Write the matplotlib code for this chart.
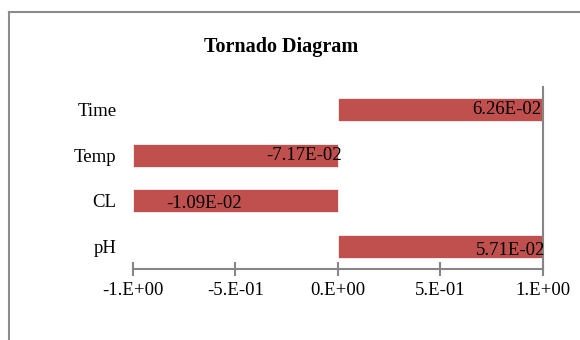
import matplotlib
matplotlib.use("Agg")
import matplotlib.pyplot as plt
from matplotlib.lines import Line2D

plt.rcParams["font.family"] = ["Liberation Serif", "DejaVu Serif"]

# bottom to top
factors = ["pH", "CL", "Temp", "Time"]
bar_values = [1.0, -1.0, -1.0, 1.0]
sensitivity = [5.71e-02, -1.09e-02, -7.17e-02, 6.26e-02]
tick_values = [-1.0, -0.5, 0.0, 0.5, 1.0]
tick_labels = ["-1.E+00", "-5.E-01", "0.E+00", "5.E-01", "1.E+00"]

# where each value label sits (x in data units, alignment)
label_x = [1.01, -0.84, 0.02, 0.99]
label_ha = ["right", "left", "right", "right"]
label_dy = [-0.1, -0.06, 0.0, 0.0]

bar_color = "#C0504D"
axis_color = "#868686"

fig = plt.figure(figsize=(5.8, 3.4), dpi=100)
ax = fig.add_axes([0.2293, 0.2088, 0.7069, 0.5353])

ypos = list(range(len(factors)))
ax.barh(ypos, bar_values, height=0.5, color=bar_color, edgecolor="white", linewidth=0.5)

for i, v in enumerate(sensitivity):
    txt = "%.2E" % v
    ax.text(label_x[i], ypos[i] + label_dy[i], txt, ha=label_ha[i], va="center",
            fontsize=13.5, color="black")

ax.set_xlim(-1, 1)
ax.set_ylim(-0.5, len(factors) - 0.5)
ax.set_xticks(tick_values)
ax.set_xticklabels(tick_labels, fontsize=13.5)
ax.set_yticks(ypos)
ax.set_yticklabels(factors, fontsize=13.5)

for s in ["top", "left"]:
    ax.spines[s].set_visible(False)
ax.spines["bottom"].set_color(axis_color)
ax.spines["bottom"].set_linewidth(1.5)
ax.spines["right"].set_color(axis_color)
ax.spines["right"].set_linewidth(1.5)

ax.tick_params(axis="x", direction="inout", length=10, width=1.5, color=axis_color, pad=4)
ax.tick_params(axis="y", length=0, pad=12)

fig.text(0.484, 0.862, "Tornado Diagram", ha="center", va="center",
         fontsize=14.5, fontweight="bold")

# chart frame (clipped on right and bottom)
fig.add_artist(Line2D([0.0155, 1.0], [0.965, 0.965], transform=fig.transFigure,
                      color="#8C8C8C", linewidth=1.5))
fig.add_artist(Line2D([0.0155, 0.0155], [0.0, 0.965], transform=fig.transFigure,
                      color="#8C8C8C", linewidth=1.5))

fig.savefig("out.png", dpi=100)
